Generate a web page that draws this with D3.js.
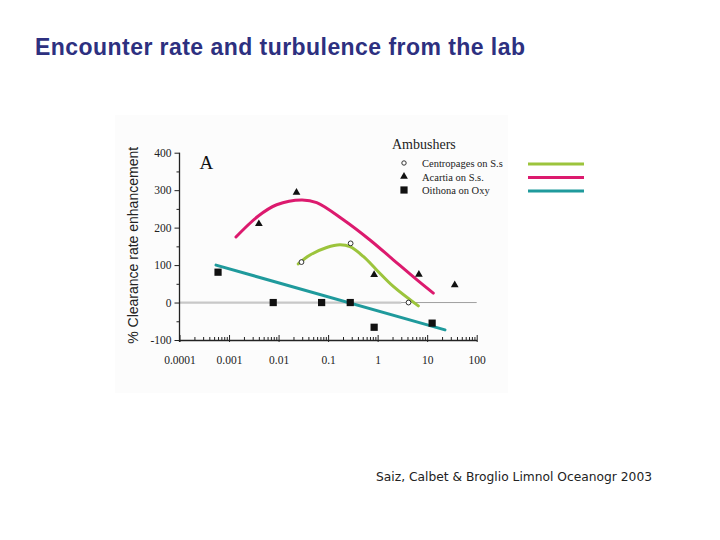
<!DOCTYPE html>
<html>
<head>
<meta charset="utf-8">
<script src="https://cdn.jsdelivr.net/npm/d3@7"></script>
<style>
  body { margin: 0; background: #fff; }
  svg { display: block; }
</style>
</head>
<body>
<svg width="720" height="540"></svg>
<script>
// data (x = dissipation rate, log scale)
const centroX = [0.029, 0.285, 4.2];
const centroY = [108, 158, 0];
const acartiaX = [0.004, 0.023, 0.85, 6.8, 36];
const acartiaY = [210, 294, 74, 75, 47];
const oithonaX = [0.0006, 0.0078, 0.074, 0.28, 0.85, 12.6];
const oithonaY = [81, 0, 0, 0, -66, -55];

// hand drawn fit curves on top of the figure
const greenX = [0.025, 0.0432, 0.0938, 0.174, 0.277, 0.514, 0.955, 2.07, 6.63];
const greenY = [103, 127, 147, 154, 149, 123, 87, 43, -9];
const magentaX = [0.00138, 0.0039, 0.00916, 0.0293, 0.0589, 0.203, 0.70, 2.07, 6.15, 13.3];
const magentaY = [175, 231, 261, 274, 267, 221, 167, 114, 61, 25];
const tealX = [0.000546, 22.9];
const tealY = [100, -73];

const xTicks = [0.0001, 0.001, 0.01, 0.1, 1, 10, 100];
const xTickLabels = ['0.0001', '0.001', '0.01', '0.1', '1', '10', '100'];
const yTicks = [-100, 0, 100, 200, 300, 400];
const yTickLabels = ['-100', '0', '100', '200', '300', '400'];

const legendLabels = ['Centropages on S.s', 'Acartia on S.s.', 'Oithona on Oxy'];
const lineColors = ['#9cc43c', '#dc1a6e', '#1f9a9c'];

const svg = d3.select('svg');
const serif = '"Liberation Serif", "Times New Roman", serif';

// page title
svg.append('text')
  .attr('x', 35).attr('y', 55)
  .attr('fill', '#2d3080')
  .attr('font-family', '"Liberation Sans", Arial, sans-serif')
  .attr('font-weight', 'bold')
  .attr('font-size', 23)
  .attr('textLength', 490)
  .attr('lengthAdjust', 'spacing')
  .text('Encounter rate and turbulence from the lab');

// scanned figure background
svg.append('rect')
  .attr('x', 115).attr('y', 115)
  .attr('width', 393).attr('height', 278)
  .attr('fill', '#fcfcfc');

const margin = {left: 179.5, top: 152.7};
const innerWidth = 297.2;
const innerHeight = 187.3;

const g = svg.append('g')
  .attr('transform', `translate(${margin.left}, ${margin.top})`);

const xScale = d3.scaleLog()
  .domain([0.0001, 100])
  .range([0, innerWidth]);

const yScale = d3.scaleLinear()
  .domain([-100, 400])
  .range([innerHeight, 0]);

// zero line, grey and thick on the left part
g.append('line')
  .attr('x1', 0).attr('x2', innerWidth)
  .attr('y1', yScale(0)).attr('y2', yScale(0))
  .attr('stroke', '#888').attr('stroke-width', 0.8);
g.append('line')
  .attr('x1', 0).attr('x2', xScale(3))
  .attr('y1', yScale(0)).attr('y2', yScale(0))
  .attr('stroke', '#c8c8c8').attr('stroke-width', 2.2);

// minor x ticks (2..9 each decade)
const minorX = [];
xTicks.slice(0, -1).forEach(t => {
  for (let k = 2; k < 10; k++) minorX.push(t * k);
});

const xMinor = g.append('g')
  .attr('transform', `translate(0, ${innerHeight})`)
  .call(d3.axisBottom(xScale).tickValues(minorX).tickFormat('').tickSize(-3).tickSizeOuter(0));
xMinor.select('.domain').remove();
xMinor.selectAll('text').remove();

const xAxis = d3.axisBottom(xScale)
  .tickValues(xTicks)
  .tickFormat((d, i) => xTickLabels[i])
  .tickSize(-5)
  .tickSizeOuter(0)
  .tickPadding(16);

const xAxisGroup = g.append('g')
  .attr('transform', `translate(0, ${innerHeight})`)
  .call(xAxis);
xAxisGroup.selectAll('.tick line')
  .attr('y2', 2).attr('y1', -5);

// minor y ticks at the 50s
const yMinor = g.append('g')
  .call(d3.axisLeft(yScale).tickValues([-50, 50, 150, 250, 350]).tickFormat('').tickSize(3).tickSizeOuter(0));
yMinor.select('.domain').remove();
yMinor.selectAll('text').remove();

const yAxisGroup = g.append('g')
  .call(d3.axisLeft(yScale).tickValues(yTicks)
    .tickFormat((d, i) => yTickLabels[i])
    .tickSize(5).tickSizeOuter(0).tickPadding(3));
yAxisGroup.select('.domain')
  .attr('d', `M0,0V${innerHeight + 2}`);

[xAxisGroup, yAxisGroup, xMinor, yMinor].forEach(ax => {
  ax.selectAll('line').attr('stroke', '#222');
  ax.selectAll('.domain').attr('stroke', '#222').attr('stroke-width', 1.3);
  ax.selectAll('text')
    .attr('font-family', serif)
    .attr('font-size', 11.5)
    .attr('fill', '#222');
});

// y axis title
g.append('text')
  .attr('transform', `translate(${138 - margin.left}, ${innerHeight / 2 - 1}) rotate(-90)`)
  .attr('text-anchor', 'middle')
  .attr('font-family', '"Liberation Sans", Arial, sans-serif')
  .attr('font-size', 14)
  .attr('fill', '#222')
  .text('% Clearance rate enhancement');

// panel letter
g.append('text')
  .attr('x', 20).attr('y', 16)
  .attr('font-family', serif)
  .attr('font-size', 19)
  .attr('fill', '#111')
  .text('A');

// fit curves
const fitLine = d3.line()
  .x(d => xScale(d[0]))
  .y(d => yScale(d[1]))
  .curve(d3.curveCatmullRom);

const fits = [
  d3.zip(greenX, greenY),
  d3.zip(magentaX, magentaY),
  d3.zip(tealX, tealY)
];

g.selectAll('path.fit').data(fits)
  .enter().append('path')
    .attr('class', 'fit')
    .attr('d', fitLine)
    .attr('fill', 'none')
    .attr('stroke', (d, i) => lineColors[i])
    .attr('stroke-width', 3)
    .attr('stroke-linecap', 'round');

// markers
const triangle = d3.symbol().type(d3.symbolTriangle).size(26);
const square = d3.symbol().type(d3.symbolSquare).size(52);

g.selectAll('circle.centro').data(d3.zip(centroX, centroY))
  .enter().append('circle')
    .attr('class', 'centro')
    .attr('cx', d => xScale(d[0]))
    .attr('cy', d => yScale(d[1]))
    .attr('r', 2.4)
    .attr('fill', '#fff')
    .attr('stroke', '#333')
    .attr('stroke-width', 1);

g.selectAll('path.acartia').data(d3.zip(acartiaX, acartiaY))
  .enter().append('path')
    .attr('class', 'acartia')
    .attr('d', triangle)
    .attr('transform', d => `translate(${xScale(d[0])}, ${yScale(d[1])})`)
    .attr('fill', '#111');

g.selectAll('path.oithona').data(d3.zip(oithonaX, oithonaY))
  .enter().append('path')
    .attr('class', 'oithona')
    .attr('d', square)
    .attr('transform', d => `translate(${xScale(d[0])}, ${yScale(d[1])})`)
    .attr('fill', '#111');

// legend
const legend = svg.append('g').attr('transform', 'translate(392, 149)');
legend.append('text')
  .attr('font-family', serif)
  .attr('font-size', 14)
  .attr('fill', '#222')
  .text('Ambushers');

const rows = legend.selectAll('g.row').data(legendLabels)
  .enter().append('g')
    .attr('class', 'row')
    .attr('transform', (d, i) => `translate(0, ${14 + i * 13.5})`);

rows.append('text')
  .attr('x', 30).attr('y', 4)
  .attr('font-family', serif)
  .attr('font-size', 10.5)
  .attr('fill', '#222')
  .text(d => d);

rows.filter((d, i) => i === 0).append('circle')
  .attr('cx', 12).attr('cy', 0).attr('r', 2.2)
  .attr('fill', '#fff').attr('stroke', '#333');
rows.filter((d, i) => i === 1).append('path')
  .attr('d', triangle).attr('transform', 'translate(12, 0)').attr('fill', '#111');
rows.filter((d, i) => i === 2).append('path')
  .attr('d', square).attr('transform', 'translate(12, 0)').attr('fill', '#111');

rows.append('line')
  .attr('x1', 136).attr('x2', 192)
  .attr('y1', 1).attr('y2', 1)
  .attr('stroke', (d, i) => lineColors[i])
  .attr('stroke-width', 3);

// citation
svg.append('text')
  .attr('x', 376).attr('y', 481)
  .attr('font-family', '"DejaVu Sans", Tahoma, sans-serif')
  .attr('font-size', 12)
  .attr('textLength', 276)
  .attr('lengthAdjust', 'spacingAndGlyphs')
  .attr('fill', '#222')
  .text('Saiz, Calbet & Broglio Limnol Oceanogr 2003');
</script>
</body>
</html>
